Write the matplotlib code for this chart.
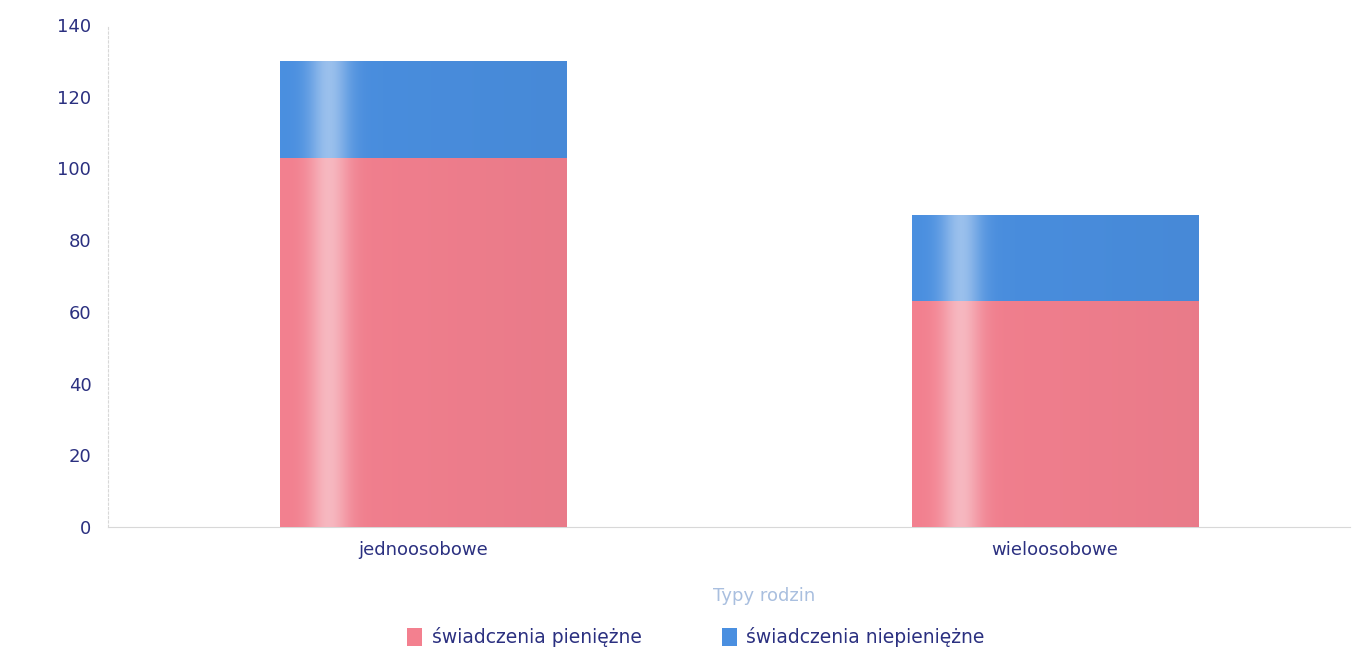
import numpy as np
import matplotlib.pyplot as plt
from matplotlib.colors import to_rgb

categories = ["jednoosobowe", "wieloosobowe"]
pieniezne = [103, 63]
niepieniezne = [27, 24]
series_names = ["świadczenia pieniężne", "świadczenia niepieniężne"]

PINK = "#f3808f"
BLUE = "#4a8fe0"
TICK_COLOR = "#2b3080"

plt.rcParams['font.family'] = ['DejaVu Sans']

fig = plt.figure(figsize=(13.62, 6.55), dpi=100)
ax = fig.add_axes([0.0793, 0.1954, 0.912, 0.7664])

x = np.arange(len(categories))
width = 0.4525
b1 = ax.bar(x, pieniezne, width, color=PINK, label=series_names[0], zorder=2)
b2 = ax.bar(x, niepieniezne, width, bottom=pieniezne, color=BLUE,
            label=series_names[1], zorder=2)


def shine(bars, base):
    # soft light stripe near the left, slightly darker to the right
    t = np.linspace(0, 1, 300)
    light = 0.45 * np.exp(-((t - 0.17) / 0.07) ** 2)
    dark = 0.04 * t
    c = np.array(to_rgb(base))
    img = c[None, :] * (1 - light[:, None]) + light[:, None]
    img = img * (1 - dark[:, None])
    img = img[None, :, :]
    for r in bars:
        x0, y0 = r.get_x(), r.get_y()
        im = ax.imshow(img, aspect="auto", interpolation="bilinear",
                       extent=[x0, x0 + r.get_width(), y0, y0 + r.get_height()],
                       zorder=3)
        im.set_clip_path(r)


shine(b1, PINK)
shine(b2, BLUE)

ax.set_xlim(-0.498, 1.467)
ax.set_ylim(0, 140)
ax.set_yticks(range(0, 141, 20))
ax.set_xticks(x)
ax.set_xticklabels(categories)
ax.tick_params(axis="both", length=0, labelsize=13, colors=TICK_COLOR, pad=12)
ax.tick_params(axis="x", pad=10)
ax.set_xlabel("Typy rodzin", color="#a9bfdf", fontsize=13)
ax.xaxis.set_label_coords(0.528, -0.12)

for s in ["top", "right"]:
    ax.spines[s].set_visible(False)
for s in ["left", "bottom"]:
    ax.spines[s].set_color("#d8d8d8")
    ax.spines[s].set_linewidth(0.8)
ax.spines["left"].set_linestyle((0, (2, 2)))

fig.legend(handles=[b1, b2], labels=series_names, loc="center",
           bbox_to_anchor=(0.511, 0.027), ncol=2, frameon=False,
           fontsize=13.5, handlelength=0.8, handleheight=1.1,
           handletextpad=0.5, columnspacing=4.3, labelcolor=TICK_COLOR)

fig.savefig("out.png", dpi=100)
